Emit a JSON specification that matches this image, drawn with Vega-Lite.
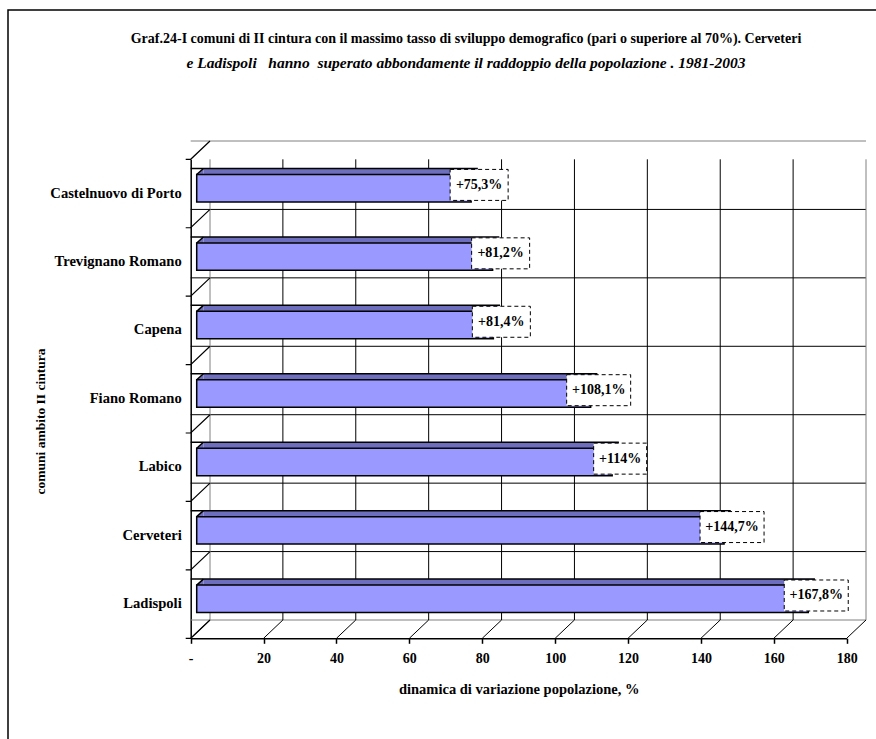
{
  "$schema": "https://vega.github.io/schema/vega-lite/v6.json",
  "width": 916,
  "height": 735,
  "autosize": {"type": "none"},
  "padding": {"left": 8, "top": 10, "right": 0, "bottom": 0},
  "background": "white",
  "title": {
    "text": "Graf.24-I comuni di II cintura con il massimo tasso di sviluppo demografico (pari o superiore al 70%). Cerveteri",
    "subtitle": "e Ladispoli\u00a0\u00a0 hanno\u00a0 superato abbondamente il raddoppio della popolazione . 1981-2003",
    "anchor": "middle",
    "offset": -61,
    "font": "Liberation Serif",
    "fontSize": 14,
    "fontWeight": "bold",
    "color": "black",
    "subtitleFont": "Liberation Serif",
    "subtitleFontSize": 15.5,
    "subtitleFontWeight": "bold",
    "subtitleFontStyle": "italic",
    "subtitleColor": "black",
    "subtitlePadding": 9.5
  },
  "datasets": {
    "comuni": [
      {"name": "Castelnuovo di Porto", "value": 75.3, "label": "+75,3%"},
      {"name": "Trevignano Romano", "value": 81.2, "label": "+81,2%"},
      {"name": "Capena", "value": 81.4, "label": "+81,4%"},
      {"name": "Fiano Romano", "value": 108.1, "label": "+108,1%"},
      {"name": "Labico", "value": 114, "label": "+114%"},
      {"name": "Cerveteri", "value": 144.7, "label": "+144,7%"},
      {"name": "Ladispoli", "value": 167.8, "label": "+167,8%"}
    ],
    "ticks": [
      {"v": 0}, {"v": 20}, {"v": 40}, {"v": 60}, {"v": 80},
      {"v": 100}, {"v": 120}, {"v": 140}, {"v": 160}, {"v": 180}
    ],
    "righe": [
      {"k": 0}, {"k": 1}, {"k": 2}, {"k": 3}, {"k": 4}, {"k": 5}, {"k": 6}, {"k": 7}
    ]
  },
  "config": {
    "view": {"stroke": "black", "strokeWidth": 1.5},
    "font": "Liberation Serif",
    "axis": {
      "labelFont": "Liberation Serif",
      "labelFontSize": 14,
      "labelFontWeight": "bold",
      "labelColor": "black",
      "titleFont": "Liberation Serif",
      "titleFontSize": 14.5,
      "titleFontWeight": "bold",
      "titleColor": "black",
      "domainColor": "black",
      "domainWidth": 1.5,
      "tickColor": "black",
      "tickWidth": 1.5,
      "grid": false
    }
  },
  "resolve": {"scale": {"y": "independent"}, "axis": {"y": "independent"}},
  "layer": [
    {
      "layer": [
        {
          "data": {"name": "righe"},
          "mark": {"type": "rule", "orient": "horizontal", "strokeWidth": 1, "xOffset": 19.3, "x2Offset": 19.3, "yOffset": -18.3},
          "encoding": {
            "x": {
              "datum": 180, "type": "quantitative",
              "scale": {"domain": [0, 180], "range": [182.7, 838.7], "nice": false, "zero": false},
              "axis": {
                "values": [0, 20, 40, 60, 80, 100, 120, 140, 160, 180],
                "labelExpr": "datum.value === 0 ? '-' : datum.label",
                "offset": -106.7,
                "tickSize": 5,
                "labelPadding": 8,
                "labelFlush": false,
                "labelOverlap": false,
                "title": "dinamica di variazione popolazione, %",
                "titlePadding": 17
              }
            },
            "y": {
              "field": "k", "type": "quantitative",
              "scale": {"domain": [0, 7], "range": [149.3, 628.3], "nice": false, "zero": false},
              "axis": null
            },
            "color": {
              "condition": {"test": "datum.k == 0 || datum.k == 7", "value": "#808080"},
              "value": "black"
            }
          }
        },
        {
          "data": {"name": "ticks"},
          "mark": {"type": "rule", "orient": "vertical", "strokeWidth": 1, "xOffset": 19.3, "yOffset": -18.3, "y2Offset": -18.3},
          "encoding": {
            "x": {"field": "v", "type": "quantitative"},
            "y": {"datum": 7, "type": "quantitative"},
            "color": {
              "condition": {"test": "datum.v == 0 || datum.v == 180", "value": "#808080"},
              "value": "black"
            }
          }
        },
        {
          "data": {"name": "ticks"},
          "mark": {"type": "point", "shape": "M0,0L19.3,-18.3", "size": 4, "filled": false, "opacity": 1, "stroke": "black", "strokeWidth": 1},
          "encoding": {
            "x": {"field": "v", "type": "quantitative"},
            "y": {"datum": 7, "type": "quantitative"}
          }
        },
        {
          "data": {"name": "righe"},
          "mark": {"type": "point", "shape": "M-5,0L0,0L19.3,-18.3", "size": 4, "filled": false, "opacity": 1, "stroke": "black", "strokeWidth": 1.2},
          "encoding": {
            "x": {"datum": 0, "type": "quantitative"},
            "y": {"field": "k", "type": "quantitative"}
          }
        }
      ]
    },
    {
      "data": {"name": "comuni"},
      "encoding": {
        "y": {
          "field": "name", "type": "nominal",
          "scale": {
            "domain": ["Castelnuovo di Porto", "Trevignano Romano", "Capena", "Fiano Romano", "Labico", "Cerveteri", "Ladispoli"],
            "range": [149.3, 628.3],
            "paddingInner": 0,
            "paddingOuter": 0
          },
          "axis": {
            "orient": "left",
            "offset": -182.7,
            "ticks": false,
            "labelPadding": 9.5,
            "labelFontSize": 14.6,
            "title": "comuni ambito II cintura",
            "titleFontSize": 13.5,
            "titleAngle": -90,
            "titleX": -150.7,
            "titleY": 411,
            "titleAlign": "center",
            "titleBaseline": "middle"
          }
        }
      },
      "layer": [
        {
          "mark": {"type": "bar", "color": "#6E6EBE", "height": 6, "xOffset": 12.7, "x2Offset": 12.7, "yOffset": -22, "strokeWidth": 0},
          "encoding": {
            "x": {"field": "value", "type": "quantitative"}
          }
        },
        {
          "mark": {"type": "point", "shape": "M6,-19L12.7,-25L12.7,-19Z", "size": 4, "filled": true, "color": "#6E6EBE", "opacity": 1, "strokeWidth": 0},
          "encoding": {
            "x": {"datum": 0, "type": "quantitative"}
          }
        },
        {
          "mark": {"type": "rule", "orient": "horizontal", "color": "black", "strokeWidth": 1.5, "xOffset": 12.7, "x2Offset": 12.7, "yOffset": -25},
          "encoding": {
            "x": {"field": "value", "type": "quantitative"}
          }
        },
        {
          "mark": {"type": "point", "shape": "M6,-19L12.7,-25", "size": 4, "filled": false, "stroke": "black", "strokeWidth": 1.5, "opacity": 1},
          "encoding": {
            "x": {"datum": 0, "type": "quantitative"}
          }
        },
        {
          "mark": {"type": "bar", "fill": "#9999FF", "stroke": "black", "strokeWidth": 1.5, "height": 27.4, "xOffset": 6, "x2Offset": 6, "yOffset": -5.3},
          "encoding": {
            "x": {"field": "value", "type": "quantitative"}
          }
        },
        {
          "transform": [{"filter": "length(datum.label) == 5"}],
          "mark": {"type": "bar", "fill": "white", "stroke": "black", "strokeWidth": 1, "strokeDash": [4, 3], "height": 31, "xOffset": -12.5, "x2Offset": 40.5, "yOffset": -8.6},
          "encoding": {
            "x": {"field": "value", "type": "quantitative"},
            "x2": {"field": "value"}
          }
        },
        {
          "transform": [{"filter": "length(datum.label) == 6"}],
          "mark": {"type": "bar", "fill": "white", "stroke": "black", "strokeWidth": 1, "strokeDash": [4, 3], "height": 31, "xOffset": -15, "x2Offset": 43, "yOffset": -8.6},
          "encoding": {
            "x": {"field": "value", "type": "quantitative"},
            "x2": {"field": "value"}
          }
        },
        {
          "transform": [{"filter": "length(datum.label) == 7"}],
          "mark": {"type": "bar", "fill": "white", "stroke": "black", "strokeWidth": 1, "strokeDash": [4, 3], "height": 31, "xOffset": -18, "x2Offset": 46, "yOffset": -8.6},
          "encoding": {
            "x": {"field": "value", "type": "quantitative"},
            "x2": {"field": "value"}
          }
        },
        {
          "mark": {"type": "text", "font": "Liberation Serif", "fontSize": 14, "fontWeight": "bold", "color": "black", "align": "center", "baseline": "middle", "xOffset": 14, "yOffset": -8.6},
          "encoding": {
            "x": {"field": "value", "type": "quantitative"},
            "text": {"field": "label"}
          }
        }
      ]
    }
  ]
}
